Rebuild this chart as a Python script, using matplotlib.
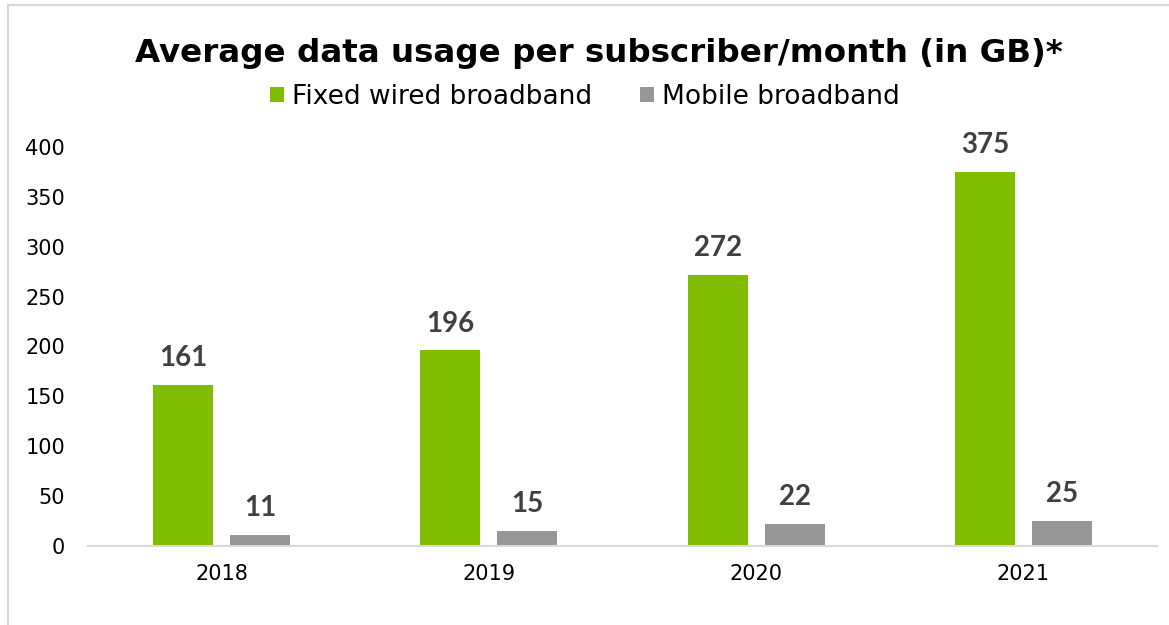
import matplotlib
matplotlib.use("Agg")
import matplotlib.pyplot as plt
import numpy as np
from matplotlib.lines import Line2D

years = ["2018", "2019", "2020", "2021"]
fixed = [161, 196, 272, 375]
mobile = [11, 15, 22, 25]
series_names = ["Fixed wired broadband", "Mobile broadband"]
yticks = [0, 50, 100, 150, 200, 250, 300, 350, 400]

plt.rcParams['font.family'] = ['DejaVu Sans']

W, H = 1169, 625
fig = plt.figure(figsize=(W/100, H/100), dpi=100)
ax = fig.add_axes([88/W, 1 - 546/H, (1157-88)/W, (546-147)/H])

x = np.arange(len(years))
bw = 0.225
off = 0.144
green = "#80BC00"
gray = "#969696"
b1 = ax.bar(x - off, fixed, bw, color=green, label=series_names[0])
b2 = ax.bar(x + off, mobile, bw, color=gray, label=series_names[1])

for rects, vals in ((b1, fixed), (b2, mobile)):
    for r, v in zip(rects, vals):
        ax.text(r.get_x() + r.get_width()/2, v + 19, str(v), ha='center', va='baseline',
                fontsize=20, fontweight='bold', color='#404040', family=['Lato', 'DejaVu Sans'])

ax.set_xlim(-0.5, len(years) - 0.5)
ax.set_ylim(0, 400)
ax.set_yticks(yticks)
ax.set_xticks(x)
ax.set_xticklabels(years)
ax.tick_params(axis='both', length=0, labelsize=15, colors='#000000')
ax.tick_params(axis='y', pad=16.5)
ax.tick_params(axis='x', pad=13)
for s in ['top', 'right', 'left']:
    ax.spines[s].set_visible(False)
ax.spines['bottom'].set_color('#D9D9D9')
ax.spines['bottom'].set_linewidth(1.5)

fig.text(135/W, 1 - 62/H, "Average data usage per subscriber/month (in GB)*", ha='left', va='baseline',
         fontsize=23.4, fontweight='bold', color='#000000')
fig.legend(handles=[b1, b2], labels=series_names, loc='center', bbox_to_anchor=(585/W, 1 - 97/H),
           ncol=2, frameon=False, fontsize=19, handlelength=0.53, handleheight=0.53,
           handletextpad=0.3, columnspacing=1.8, borderpad=0, borderaxespad=0)

fig.lines.append(Line2D([8/W, 1], [1 - 5/H, 1 - 5/H], transform=fig.transFigure,
                        color='#D9D9D9', linewidth=1.5))
fig.lines.append(Line2D([8/W, 8/W], [0, 1 - 5/H], transform=fig.transFigure,
                        color='#D9D9D9', linewidth=1.5))

fig.savefig("out.png", dpi=100)
